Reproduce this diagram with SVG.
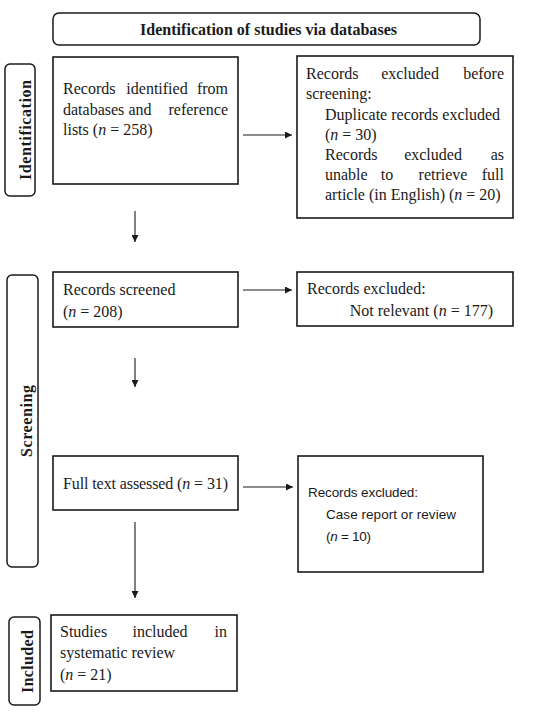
<svg xmlns="http://www.w3.org/2000/svg" width="550" height="712" viewBox="0 0 550 712">
<style>
.box{fill:#fff;stroke:#1a1a1a;stroke-width:1.6}
.side{fill:#fff;stroke:#1a1a1a;stroke-width:1.5}
.t{font-family:"Liberation Serif","Times New Roman",serif;font-size:16px;fill:#1a1a1a}
.m{text-anchor:middle}
.e{text-anchor:end}
.s{font-family:"Liberation Sans",Arial,sans-serif;font-size:13.5px;fill:#1a1a1a}
.b{font-family:"Liberation Serif","Times New Roman",serif;font-size:16px;font-weight:bold;fill:#1a1a1a}
.i{font-style:italic}
.c{stroke:#1a1a1a;stroke-width:1.1;fill:none;marker-end:url(#ah)}
</style>
<defs>
<marker id="ah" viewBox="0 0 10 10" refX="10" refY="5" markerUnits="userSpaceOnUse" markerWidth="8" markerHeight="7" orient="auto">
<path d="M0,0 L10,5 L0,10 z" fill="#1a1a1a"/>
</marker>
</defs>
<rect width="550" height="712" fill="#fff"/>

<g id="title">
<rect class="side" x="53" y="13" width="427" height="32" rx="6"/>
<text class="b" x="140" y="35" font-size="14.5" textLength="257">Identification of studies via databases</text>
</g>

<g id="lbl-identification">
<rect class="side" x="5" y="64" width="30" height="132" rx="5"/>
<text class="b" transform="translate(31,180) rotate(-90)" x="0" y="0" textLength="100">Identification</text>
</g>
<g id="lbl-screening">
<rect class="side" x="7" y="275" width="31" height="292" rx="5"/>
<text class="b" transform="translate(32,457) rotate(-90)" x="0" y="0" textLength="72">Screening</text>
</g>
<g id="lbl-included">
<rect class="side" x="9" y="617" width="31" height="88" rx="5"/>
<text class="b" transform="translate(33,693) rotate(-90)" x="0" y="0" textLength="63">Included</text>
</g>

<g id="n-identified">
<rect class="box" x="53" y="57" width="185" height="127"/>
<text class="t" x="63" y="94">Records</text>
<text class="t m" x="157" y="94">identified</text>
<text class="t e" x="228" y="94">from</text>
<text class="t" x="63" y="115">databases</text>
<text class="t m" x="140" y="115">and</text>
<text class="t e" x="228" y="115">reference</text>
<text class="t" x="63" y="135">lists (<tspan class="i">n</tspan> = 258)</text>
</g>

<g id="n-excluded-before">
<rect class="box" x="297" y="56" width="216" height="162"/>
<text class="t" x="306" y="79">Records</text>
<text class="t m" x="410" y="79">excluded</text>
<text class="t e" x="504" y="79">before</text>
<text class="t" x="306" y="99">screening:</text>
<text class="t" x="325" y="120">Duplicate records excluded</text>
<text class="t" x="325" y="140">(<tspan class="i">n</tspan> = 30)</text>
<text class="t" x="325" y="160">Records</text>
<text class="t m" x="433" y="160">excluded</text>
<text class="t e" x="504" y="160">as</text>
<text class="t" x="325" y="180">unable</text>
<text class="t m" x="387" y="180">to</text>
<text class="t m" x="443" y="180">retrieve</text>
<text class="t e" x="504" y="180">full</text>
<text class="t" x="325" y="200">article (in English) (<tspan class="i">n</tspan> = 20)</text>
</g>

<g id="n-screened">
<rect class="box" x="53" y="272" width="185" height="55"/>
<text class="t" x="63" y="295">Records screened</text>
<text class="t" x="63" y="317">(<tspan class="i">n</tspan> = 208)</text>
</g>

<g id="n-excluded-screen">
<rect class="box" x="297" y="272" width="216" height="54"/>
<text class="t" x="307" y="294">Records excluded:</text>
<text class="t e" x="493" y="316">Not relevant (<tspan class="i">n</tspan> = 177)</text>
</g>

<g id="n-fulltext">
<rect class="box" x="53" y="456" width="185" height="54"/>
<text class="t" x="63" y="489" textLength="165">Full text assessed (<tspan class="i">n</tspan> = 31)</text>
</g>

<g id="n-excluded-full">
<rect class="box" x="298" y="456" width="185" height="116"/>
<text class="s" x="308" y="497" textLength="110">Records excluded:</text>
<text class="s" x="326" y="519" textLength="130">Case report or review</text>
<text class="s" x="326" y="541" textLength="45">(<tspan class="i">n</tspan> = 10)</text>
</g>

<g id="n-included">
<rect class="box" x="51" y="615" width="186" height="76"/>
<text class="t" x="60" y="637">Studies</text>
<text class="t m" x="160" y="637">included</text>
<text class="t e" x="227" y="637">in</text>
<text class="t" x="60" y="658">systematic review</text>
<text class="t" x="60" y="680">(<tspan class="i">n</tspan> = 21)</text>
</g>

<g id="connectors">
<line class="c" x1="243" y1="135" x2="292" y2="135"/>
<line class="c" x1="135" y1="211" x2="135" y2="242"/>
<line class="c" x1="243" y1="290" x2="292" y2="290"/>
<line class="c" x1="135" y1="358" x2="135" y2="387"/>
<line class="c" x1="243" y1="487" x2="293" y2="487"/>
<line class="c" x1="135" y1="522" x2="135" y2="598"/>
</g>
</svg>
